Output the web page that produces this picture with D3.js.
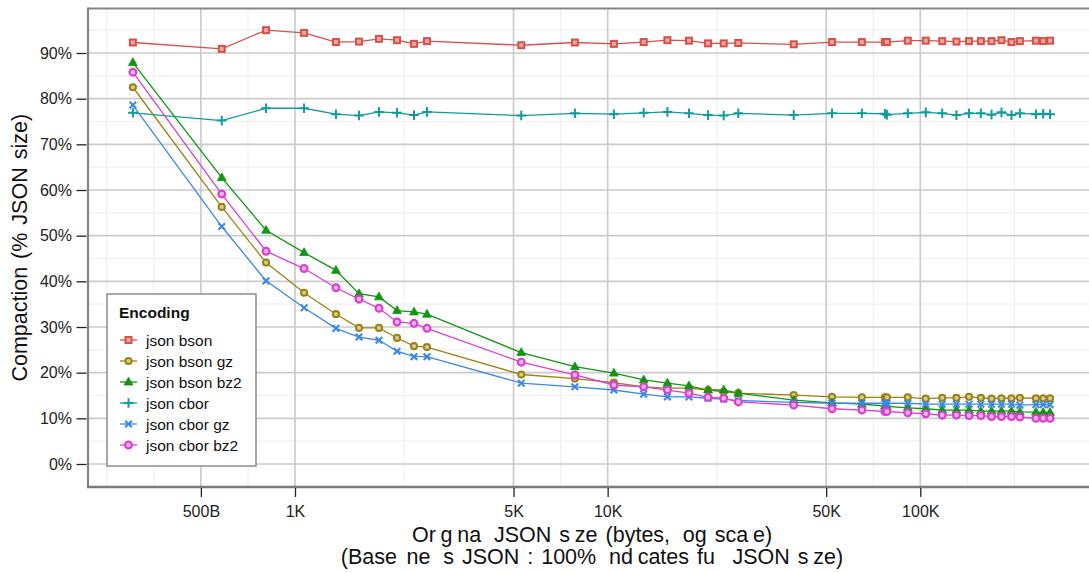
<!DOCTYPE html>
<html><head><meta charset="utf-8">
<script src="https://cdn.jsdelivr.net/npm/d3@7"></script>
<style>
body{margin:0;background:#fff;}
text{font-family:"Liberation Sans",Arial,Helvetica,sans-serif;}
</style></head>
<body><svg id="c" width="1089" height="573"></svg>
<script>
// ---- data ----
const sizes = [303,583,808,1069,1352,1602,1856,2120,2402,2643,5293,7856,10470,13040,15530,18200,20950,23510,26170,39370,52200,65020,77050,78190,91200,104100,117500,130500,143200,156200,169000,181800,195700,208200,234300,247200,260100];
const jsonBson = [92.3,90.9,95.0,94.4,92.4,92.5,93.1,92.8,92.0,92.6, 91.7,92.3,92.0,92.4,92.8,92.7,92.1,92.1,92.2,91.9,92.4,92.4,92.4,92.4,92.7,92.7,92.6,92.5,92.6,92.6,92.6,92.8,92.4,92.6,92.7,92.6,92.7];
const jsonBsonGz = [82.5,56.3,44.1,37.5,32.8,29.8,29.8,27.6,25.8,25.6, 19.6,18.7,17.8,16.9,16.6,16.6,16.2,15.8,15.5,15.1,14.7,14.6,14.6,14.6,14.6,14.3,14.5,14.5,14.7,14.5,14.3,14.4,14.4,14.5,14.4,14.4,14.4];
const jsonBsonBz2 = [87.9,62.7,51.2,46.3,42.4,37.3,36.6,33.6,33.3,32.8, 24.4,21.3,19.9,18.4,17.7,17.1,16.2,16.2,15.5,14.0,13.4,13.1,12.7,12.6,12.3,12.1,11.8,11.8,11.8,11.6,11.6,11.6,11.6,11.4,11.35,11.3,11.3];
const jsonCbor = [76.9,75.2,77.9,77.9,76.6,76.3,77.1,76.9,76.4,77.1, 76.3,76.8,76.6,76.9,77.1,76.8,76.4,76.3,76.8,76.4,76.8,76.8,76.7,76.5,76.8,77.0,76.8,76.4,76.8,76.8,76.5,77.0,76.4,76.8,76.6,76.7,76.6];
const jsonCborGz = [78.6,52.0,40.1,34.2,29.7,27.8,27.1,24.7,23.5,23.5, 17.7,16.9,16.2,15.3,14.7,14.7,14.4,14.2,13.9,13.5,13.3,13.3,13.3,13.3,13.3,13.1,13.1,13.1,13.1,13.1,13.1,13.1,13.1,12.9,13.0,13.0,13.0];
const jsonCborBz2 = [85.8,59.1,46.6,42.8,38.6,36.1,34.1,31.1,30.8,29.7, 22.3,19.5,17.3,16.9,16.2,15.5,14.6,14.4,13.6,12.9,12.1,11.8,11.5,11.5,11.2,11.0,10.7,10.7,10.6,10.6,10.4,10.4,10.4,10.3,10.0,10.0,10.0];
const seriesNames = ["json bson","json bson gz","json bson bz2","json cbor","json cbor gz","json cbor bz2"];
const seriesValues = [jsonBson,jsonBsonGz,jsonBsonBz2,jsonCbor,jsonCborGz,jsonCborBz2];
const xTickValues = [500,1000,5000,10000,50000,100000];
const xTickLabels = ["500B","1K","5K","10K","50K","100K"];
const yTickValues = [0,10,20,30,40,50,60,70,80,90];

// ---- style ----
const colors = ["#d5514a","#9b8215","#139413","#119b9b","#3c87e8","#d93fd0"];
const shapes = ["square","circle","triangle","plus","times","ring"];
const W=1089,H=573;
const panel={left:88,right:1096,top:8.5,bottom:487};

const svg=d3.select("#c");
svg.append("rect").attr("width",W).attr("height",H).attr("fill","#fff");

const x=d3.scaleLog().domain([1000,100000]).range([295,920.3]);
const y=d3.scaleLinear().domain([0,90]).range([464,53]);

svg.append("clipPath").attr("id","clip").append("rect")
  .attr("x",panel.left).attr("y",panel.top).attr("width",panel.right-panel.left).attr("height",panel.bottom-panel.top);

const g=svg.append("g").attr("clip-path","url(#clip)");

// minor grid (ggplot-style midpoints in log space)
const lb=xTickValues.map(Math.log10);
const bd=lb[1]-lb[0];
const ext=[lb[0]-bd,...lb,lb[lb.length-1]+bd];
const xMinor=[];
for(let i=0;i<ext.length-1;i++){xMinor.push(ext[i]);xMinor.push((ext[i]+ext[i+1])/2);}
xMinor.push(ext[ext.length-1]);
g.selectAll(".vmin").data(xMinor).join("line")
  .attr("x1",d=>x(Math.pow(10,d))).attr("x2",d=>x(Math.pow(10,d)))
  .attr("y1",panel.top).attr("y2",panel.bottom).attr("stroke","#f0f0f0").attr("stroke-width",1.2);
const yMinor=d3.range(-5,100,10);
g.selectAll(".hmin").data(yMinor).join("line")
  .attr("x1",panel.left).attr("x2",panel.right).attr("y1",d=>y(d)).attr("y2",d=>y(d))
  .attr("stroke","#f0f0f0").attr("stroke-width",1.2);
// major grid
g.selectAll(".vmaj").data(xTickValues).join("line")
  .attr("x1",d=>x(d)).attr("x2",d=>x(d)).attr("y1",panel.top).attr("y2",panel.bottom)
  .attr("stroke","#cbcbcb").attr("stroke-width",1.6);
g.selectAll(".hmaj").data(yTickValues).join("line")
  .attr("x1",panel.left).attr("x2",panel.right).attr("y1",d=>y(d)).attr("y2",d=>y(d))
  .attr("stroke","#cbcbcb").attr("stroke-width",1.6);

// markers
function drawShape(sel,shape,color){
  if(shape==="square"){
    const s=3;
    sel.append("rect").attr("x",-s).attr("y",-s).attr("width",2*s).attr("height",2*s)
      .attr("fill","#eaa7a2").attr("stroke",color).attr("stroke-width",2);
  } else if(shape==="circle"){
    sel.append("circle").attr("r",3.1).attr("fill","#d9c994").attr("stroke",color).attr("stroke-width",2);
  } else if(shape==="triangle"){
    sel.append("path").attr("d","M0,-4.8L4.4,3L-4.4,3Z").attr("fill",color).attr("stroke",color).attr("stroke-width",0.8);
  } else if(shape==="plus"){
    sel.append("path").attr("d","M-4.8,0H4.8M0,-4.8V4.8").attr("stroke",color).attr("stroke-width",2).attr("fill","none");
  } else if(shape==="times"){
    sel.append("path").attr("d","M-3.3,-3.3L3.3,3.3M-3.3,3.3L3.3,-3.3").attr("stroke",color).attr("stroke-width",2.1).attr("fill","none");
  } else {
    sel.append("circle").attr("r",3.4).attr("fill","#efb6ec").attr("stroke",color).attr("stroke-width",2.2);
  }
}

const line=d3.line().x(d=>x(d[0])).y(d=>y(d[1]));
seriesValues.forEach((vals,i)=>{
  const pts=sizes.map((s,j)=>[s,vals[j]]);
  g.append("path").datum(pts).attr("d",line).attr("fill","none")
    .attr("stroke",colors[i]).attr("stroke-width",1.3);
});
seriesValues.forEach((vals,i)=>{
  const pts=sizes.map((s,j)=>[s,vals[j]]);
  g.selectAll(null).data(pts).join("g")
    .attr("transform",d=>`translate(${x(d[0])},${y(d[1])})`)
    .each(function(){drawShape(d3.select(this),shapes[i],colors[i]);});
});

// panel border (top + left) and x axis line
svg.append("line").attr("x1",panel.left).attr("x2",W).attr("y1",panel.top).attr("y2",panel.top)
  .attr("stroke","#858585").attr("stroke-width",2.2);
svg.append("line").attr("x1",panel.left).attr("x2",panel.left).attr("y1",panel.top-1).attr("y2",panel.bottom)
  .attr("stroke","#858585").attr("stroke-width",2.2);
svg.append("line").attr("x1",panel.left-1).attr("x2",W).attr("y1",panel.bottom).attr("y2",panel.bottom)
  .attr("stroke","#7a7a7a").attr("stroke-width",2.6);

// axes
const yAxis=svg.append("g").attr("transform","translate(86.5,0)")
  .call(d3.axisLeft(y).tickValues(yTickValues).tickFormat(d=>d+"%").tickSize(10).tickPadding(4.5));
yAxis.select(".domain").remove();
yAxis.selectAll(".tick line").attr("stroke","#222").attr("stroke-width",1.3);
yAxis.selectAll("text").attr("font-size",16).attr("fill","#222").style("font-family","'Liberation Sans',Arial,sans-serif");

const xAxis=svg.append("g").attr("transform",`translate(0,${panel.bottom+1})`)
  .call(d3.axisBottom(x).tickValues(xTickValues).tickFormat((d,i)=>xTickLabels[i]).tickSize(9).tickPadding(9));
xAxis.select(".domain").remove();
xAxis.selectAll(".tick line").attr("stroke","#222").attr("stroke-width",1.3);
xAxis.selectAll("text").attr("font-size",16).attr("fill","#222").style("font-family","'Liberation Sans',Arial,sans-serif");

// axis titles
svg.append("text").attr("transform",`translate(27,${(panel.top+panel.bottom)/2}) rotate(-90)`)
  .attr("text-anchor","middle").attr("font-size",21.5).attr("word-spacing",2).attr("fill","#111").text("Compaction (% JSON size)");

function titleLine(str,yy){
  const t=svg.append("text").attr("x",592).attr("y",yy).attr("text-anchor","middle")
    .attr("font-size",21.5).attr("word-spacing",2).attr("fill","#111").attr("xml:space","preserve");
  // glyphs 'i' and 'l' did not render in the reference; keep them as text but invisible
  const parts=str.match(/[il]+|[^il]+/g);
  parts.forEach(p=>{
    t.append("tspan").text(p).attr("fill-opacity",/^[il]+$/.test(p)?0:1);
  });
}
titleLine("Original JSON size (bytes, log scale)",542);
titleLine("(Baseline is JSON : 100% indicates full JSON size)",564);

// legend
const lg=svg.append("g");
lg.append("rect").attr("x",107).attr("y",294).attr("width",149).attr("height",172)
  .attr("fill","#fff").attr("stroke","#8c8c8c").attr("stroke-width",1.5);
lg.append("text").attr("x",119).attr("y",318).attr("font-size",15.5).attr("font-weight","bold")
  .attr("fill","#111").text("Encoding");
seriesNames.forEach((n,i)=>{
  const cy=340+i*21;
  lg.append("line").attr("x1",120).attr("x2",137).attr("y1",cy).attr("y2",cy)
    .attr("stroke",colors[i]).attr("stroke-width",1.3);
  const m=lg.append("g").attr("transform",`translate(128.5,${cy})`);
  drawShape(m,shapes[i],colors[i]);
  lg.append("text").attr("x",146).attr("y",cy+5.5).attr("font-size",15.5).attr("fill","#111").text(n);
});
</script></body></html>
